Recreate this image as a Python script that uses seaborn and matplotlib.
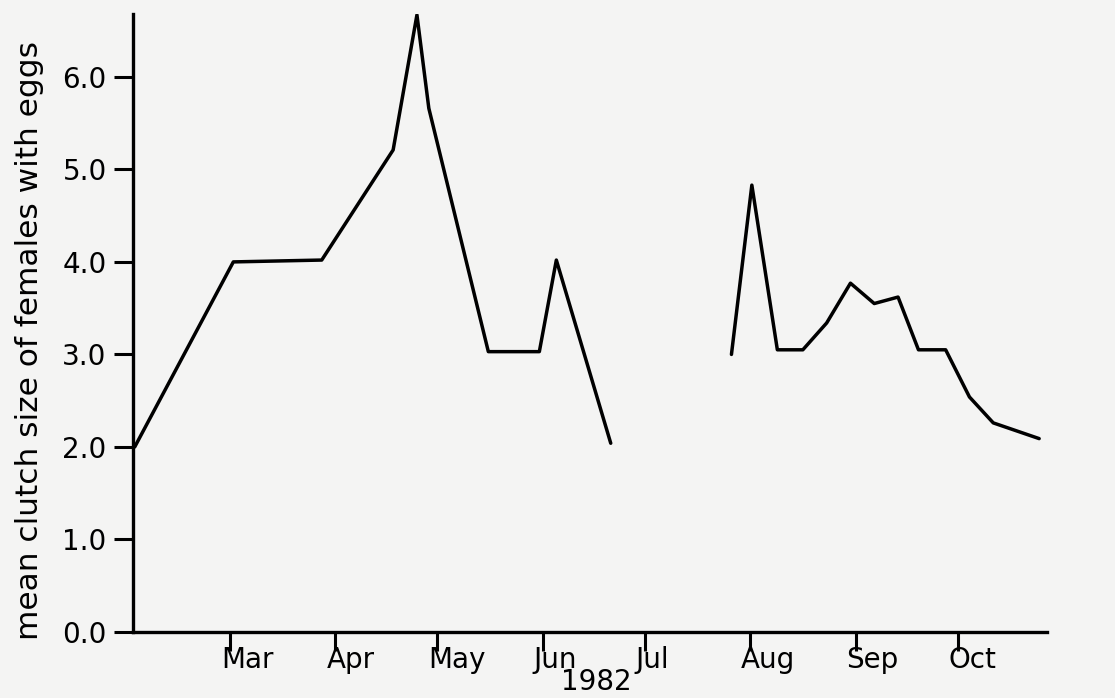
import numpy as np
import pandas as pd
import seaborn as sns
import matplotlib
matplotlib.use("Agg")
import matplotlib.pyplot as plt
from matplotlib.transforms import ScaledTranslation

# Mean clutch size, 1982 (x = day of year)
spring_day = [32, 61, 87, 108, 115, 118.5, 136, 151, 156, 172]
spring_clutch = [2.00, 4.00, 4.02, 5.21, 6.67, 5.66, 3.03, 3.03, 4.02, 2.04]

summer_day = [207.5, 213.5, 221, 228.5, 235.5, 242.5, 249.5, 256.5, 262.5, 270.5, 277.5, 284.5, 298]
summer_clutch = [3.00, 4.83, 3.05, 3.05, 3.34, 3.77, 3.55, 3.62, 3.05, 3.05, 2.54, 2.26, 2.09]

month_days = [60, 91, 121, 152, 182, 213, 244, 274]
month_labels = ["Mar", "Apr", "May", "Jun", "Jul", "Aug", "Sep", "Oct"]
y_ticks = [0, 1, 2, 3, 4, 5, 6]
y_labels = ["0.0", "1.0", "2.0", "3.0", "4.0", "5.0", "6.0"]

df = pd.concat([
    pd.DataFrame({"day": spring_day, "clutch": spring_clutch, "run": "spring"}),
    pd.DataFrame({"day": summer_day, "clutch": summer_clutch, "run": "summer"}),
], ignore_index=True)

sns.set_style("ticks")
plt.rcParams["font.family"] = ["DejaVu Sans"]
plt.rcParams["text.color"] = "black"
plt.rcParams["axes.labelcolor"] = "black"

paper = "#f4f4f3"
fig = plt.figure(figsize=(11.15, 6.98), dpi=100, facecolor=paper)
ax = fig.add_axes([0.1193, 0.0946, 0.8197, 0.8854])
ax.set_facecolor(paper)

sns.lineplot(data=df, x="day", y="clutch", units="run", estimator=None,
             sort=False, color="black", linewidth=2.5, ax=ax)

ax.set_xlim(31.5, 300.3)
ax.set_ylim(0, 6.68)

for side in ("top", "right"):
    ax.spines[side].set_visible(False)
for side in ("left", "bottom"):
    ax.spines[side].set_linewidth(2.4)
    ax.spines[side].set_color("black")

ax.set_xticks(month_days)
ax.set_xticklabels(month_labels)
ax.set_yticks(y_ticks)
ax.set_yticklabels(y_labels)

ax.tick_params(axis="both", direction="out", length=14, width=2.2,
               colors="black", labelsize=20)
ax.tick_params(axis="x", pad=-4)
ax.tick_params(axis="y", pad=5)

shift = ScaledTranslation(-9 / 100, 0, fig.dpi_scale_trans)
for lab in ax.get_xticklabels():
    lab.set_horizontalalignment("left")
    lab.set_transform(lab.get_transform() + shift)

ax.set_xlabel("")
ax.set_ylabel("mean clutch size of females with eggs", fontsize=22.5)
ax.yaxis.set_label_coords(-0.097, 0.472)

fig.text(0.535, 0.012, "1982", fontsize=20, ha="center", va="baseline")

fig.savefig("out.png", dpi=100, facecolor=paper)
